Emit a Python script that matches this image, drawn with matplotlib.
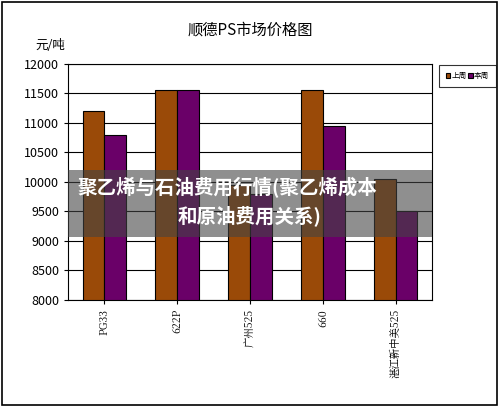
import matplotlib.pyplot as plt
import numpy as np
from matplotlib.patches import Rectangle

plt.rcParams['font.family'] = ['Noto Sans CJK SC', 'DejaVu Sans']

categories = ['PG33', '622P', '广州525', '660', '湛江新中美525']
last_week = [11200, 11550, 9950, 11550, 10050]
this_week = [10800, 11550, 9800, 10950, 9500]

fig = plt.figure(figsize=(5.0, 4.07), dpi=100)
ax = fig.add_axes([0.136, 0.263, 0.728, 0.58])
x = np.arange(len(categories))
w = 0.3
ax.bar(x - w / 2, np.array(last_week) - 8000, w, bottom=8000, color='#9a4a08',
       edgecolor='black', linewidth=0.8, label='上周', zorder=3)
ax.bar(x + w / 2, np.array(this_week) - 8000, w, bottom=8000, color='#6a0068',
       edgecolor='black', linewidth=0.8, label='本周', zorder=3)
ax.set_ylim(8000, 12000)
ax.set_xlim(-0.5, 4.5)
ax.set_yticks(range(8000, 12001, 500))
ax.yaxis.grid(True, color='black', linewidth=0.8, zorder=0)
ax.tick_params(axis='y', labelsize=9, length=3)
ax.set_xticks(x)
ax.set_xticklabels(categories, rotation=90, fontsize=7.5,
                   family=['Noto Serif CJK SC', 'Noto Sans CJK SC', 'DejaVu Serif'])
ax.tick_params(axis='x', length=3)
for s in ax.spines.values():
    s.set_linewidth(0.8)

fig.text(0.5, 0.915, '顺德PS市场价格图', ha='center', fontsize=11)
fig.text(0.07, 0.88, '元/吨', fontsize=9)

leg = fig.legend(loc='upper left', bbox_to_anchor=(0.878, 0.84), ncol=2, fontsize=5.5,
                 handlelength=0.6, handleheight=0.6, handletextpad=0.15, columnspacing=0.2,
                 frameon=True, fancybox=False, edgecolor='black', borderpad=0.9,
                 borderaxespad=0)
leg.get_frame().set_linewidth(0.8)

# banner overlay
fig.patches.append(Rectangle((0.136, 0.418), 0.728, 0.165, transform=fig.transFigure,
                             facecolor='#444444', alpha=0.6, zorder=5))
fig.text(0.155, 0.54, '聚乙烯与石油费用行情(聚乙烯成本', color='white', fontsize=14,
         fontweight='heavy', va='center', zorder=6)
fig.text(0.5, 0.47, '和原油费用关系)', color='white', fontsize=14,
         fontweight='heavy', va='center', ha='center', zorder=6)

fig.patches.append(Rectangle((0.004, 0.005), 0.99, 0.99, transform=fig.transFigure,
                             facecolor='none', edgecolor='black', linewidth=1.2))
fig.savefig('out.png', dpi=100)
